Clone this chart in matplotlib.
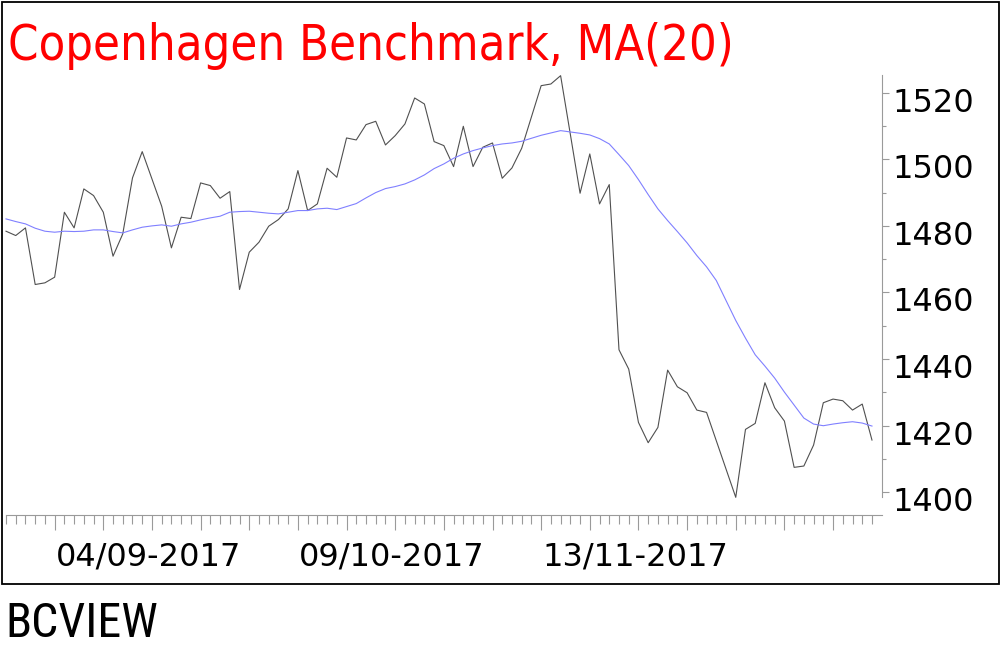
import matplotlib
matplotlib.use('Agg')
import matplotlib.pyplot as plt
import matplotlib.transforms as mtransforms
from matplotlib import font_manager
from matplotlib.patches import Rectangle
from matplotlib.ticker import FixedLocator, FixedFormatter, MultipleLocator
import numpy as np
import pandas as pd

plt.rcParams.update({
    'font.family': 'DejaVu Sans',
    'axes.grid': False,
})

# trading days shown in the chart
dates = pd.bdate_range('2017-08-14', periods=90)
label_dates = ['2017-09-04', '2017-10-09', '2017-11-13']

# closing values
close = [
    1478.4, 1477.1, 1479.4, 1462.4, 1462.9, 1464.6, 1484.1, 1479.4, 1491.1, 1489.1,
    1484.1, 1470.9, 1477.6, 1494.4, 1502.3, 1494.1, 1485.9, 1473.4, 1482.6, 1482.2,
    1492.9, 1492.1, 1488.3, 1490.3, 1460.9, 1472.1, 1475.1, 1479.9, 1481.9, 1485.1,
    1496.6, 1484.6, 1486.6, 1497.3, 1494.6, 1506.4, 1505.8, 1510.4, 1511.4, 1504.3,
    1507.1, 1510.6, 1518.4, 1516.6, 1505.3, 1504.1, 1497.8, 1509.9, 1497.8, 1503.6,
    1504.9, 1494.3, 1497.4, 1503.3, 1512.7, 1522.1, 1522.6, 1525.1, 1507.5, 1489.8,
    1501.6, 1486.6, 1492.4, 1442.8, 1437.0, 1421.0, 1414.9, 1419.5, 1436.7, 1431.7,
    1429.9, 1424.7, 1424.0, 1415.5, 1407.0, 1398.5, 1418.9, 1420.7, 1432.9, 1425.4,
    1421.4, 1407.5, 1407.9, 1414.2, 1426.9, 1428.0, 1427.5, 1424.7, 1426.5, 1415.7,
]

# 20 day moving average
ma20 = [
    1482.1, 1481.3, 1480.6, 1479.3, 1478.4, 1478.1, 1478.4, 1478.3, 1478.4, 1478.8,
    1478.8, 1478.3, 1477.9, 1478.8, 1479.6, 1480.0, 1480.3, 1479.9, 1480.6, 1481.1,
    1481.8, 1482.4, 1482.9, 1484.1, 1484.3, 1484.4, 1484.1, 1483.8, 1483.6, 1484.1,
    1484.6, 1484.6, 1485.1, 1485.3, 1484.9, 1485.8, 1486.7, 1488.4, 1490.0, 1491.2,
    1491.8, 1492.6, 1493.8, 1495.3, 1497.2, 1498.6, 1500.3, 1501.6, 1502.6, 1503.4,
    1504.1, 1504.6, 1504.9, 1505.4, 1506.3, 1507.2, 1507.9, 1508.6, 1508.2, 1507.8,
    1507.3, 1506.2, 1504.6, 1501.4, 1498.1, 1493.9, 1489.4, 1485.1, 1481.6, 1478.3,
    1474.9, 1471.1, 1467.7, 1463.6, 1457.6, 1451.6, 1446.3, 1441.3, 1437.9, 1434.3,
    1430.1, 1426.2, 1422.3, 1420.5, 1420.0, 1420.5, 1420.9, 1421.2, 1420.8, 1419.9,
]

# narrow fonts for title / footer if they are there
fonts = font_manager.fontManager.ttflist
installed = {f.name for f in fonts}
narrow = next((n for n in ['Liberation Sans Narrow', 'Roboto Condensed']
               if n in installed), 'DejaVu Sans')
if any(f.name == 'DejaVu Sans' and f.stretch == 'condensed' for f in fonts):
    title_font = dict(family='DejaVu Sans', stretch='condensed')
else:
    title_font = dict(family=narrow)

W, H = 1004, 650
fig = plt.figure(figsize=(W / 100, H / 100), dpi=100)
ax = fig.add_axes([6 / W, (H - 497) / H, 875.7 / W, 422 / H])

x = np.arange(len(close))
ax.plot(x, close, color='#505050', linewidth=0.8, clip_on=False)
ax.plot(x, ma20, color='#8080ff', linewidth=0.8, clip_on=False)

ax.set_xlim(0, 90)
ax.set_ylim(1398.6, 1525.3)

axis_col = '#9a9a9a'
ax.spines['top'].set_visible(False)
ax.spines['left'].set_visible(False)
ax.spines['right'].set_color(axis_col)
ax.spines['bottom'].set_color(axis_col)
ax.spines['bottom'].set_position(('outward', 13))

# y axis on the right
ax.yaxis.tick_right()
ax.yaxis.set_major_locator(MultipleLocator(20))
ax.yaxis.set_minor_locator(MultipleLocator(10))
ax.tick_params(axis='y', which='major', direction='out', length=5, width=0.8,
               color=axis_col, pad=3, labelsize=23)
ax.tick_params(axis='y', which='minor', direction='out', length=3, width=0.8, color=axis_col)

# x axis: one tick per day, long ones on mondays
date_str = [d.strftime('%Y-%m-%d') for d in dates]
major_pos = list(range(5, len(dates), 5))
major_lab = [dates[i].strftime('%d/%m-%Y') if date_str[i] in label_dates else '' for i in major_pos]
ax.xaxis.set_major_locator(FixedLocator(major_pos))
ax.xaxis.set_major_formatter(FixedFormatter(major_lab))
ax.xaxis.set_minor_locator(FixedLocator(list(range(len(dates)))))
ax.tick_params(axis='x', which='major', direction='out', length=11, width=0.8,
               color=axis_col, pad=8, labelsize=23)
ax.tick_params(axis='x', which='minor', direction='out', length=6.7, width=0.8, color=axis_col)

# shift y labels a bit below their ticks, x labels slightly left
ydown = mtransforms.ScaledTranslation(0, -0.19, fig.dpi_scale_trans)
for lab in ax.get_yticklabels():
    lab.set_verticalalignment('baseline')
    lab.set_transform(lab.get_transform() + ydown)
xleft = mtransforms.ScaledTranslation(-0.035, 0, fig.dpi_scale_trans)
for lab in ax.get_xticklabels():
    lab.set_transform(lab.get_transform() + xleft)

# title and footer, sized to the widths in the original
renderer = fig.canvas.get_renderer()
title = fig.text(8 / W, 1 - 60 / H, 'Copenhagen Benchmark, MA(20)', color='red',
                 fontsize=40, ha='left', va='baseline', **title_font)
w = title.get_window_extent(renderer=renderer).width
title.set_fontsize(min(42, 40 * 724 / w))

foot = fig.text(5 / W, 1 - 637 / H, 'BCVIEW', color='black',
                fontsize=34, family=narrow, ha='left', va='baseline')
w = foot.get_window_extent(renderer=renderer).width
foot.set_fontsize(min(36, 34 * 153 / w))

# frame round the chart
fig.add_artist(Rectangle((2 / W, 1 - 584 / H), 996.7 / W, 582 / H, transform=fig.transFigure,
                         fill=False, edgecolor='black', linewidth=1.3))

fig.savefig('out.png', dpi=100)
plt.close(fig)
